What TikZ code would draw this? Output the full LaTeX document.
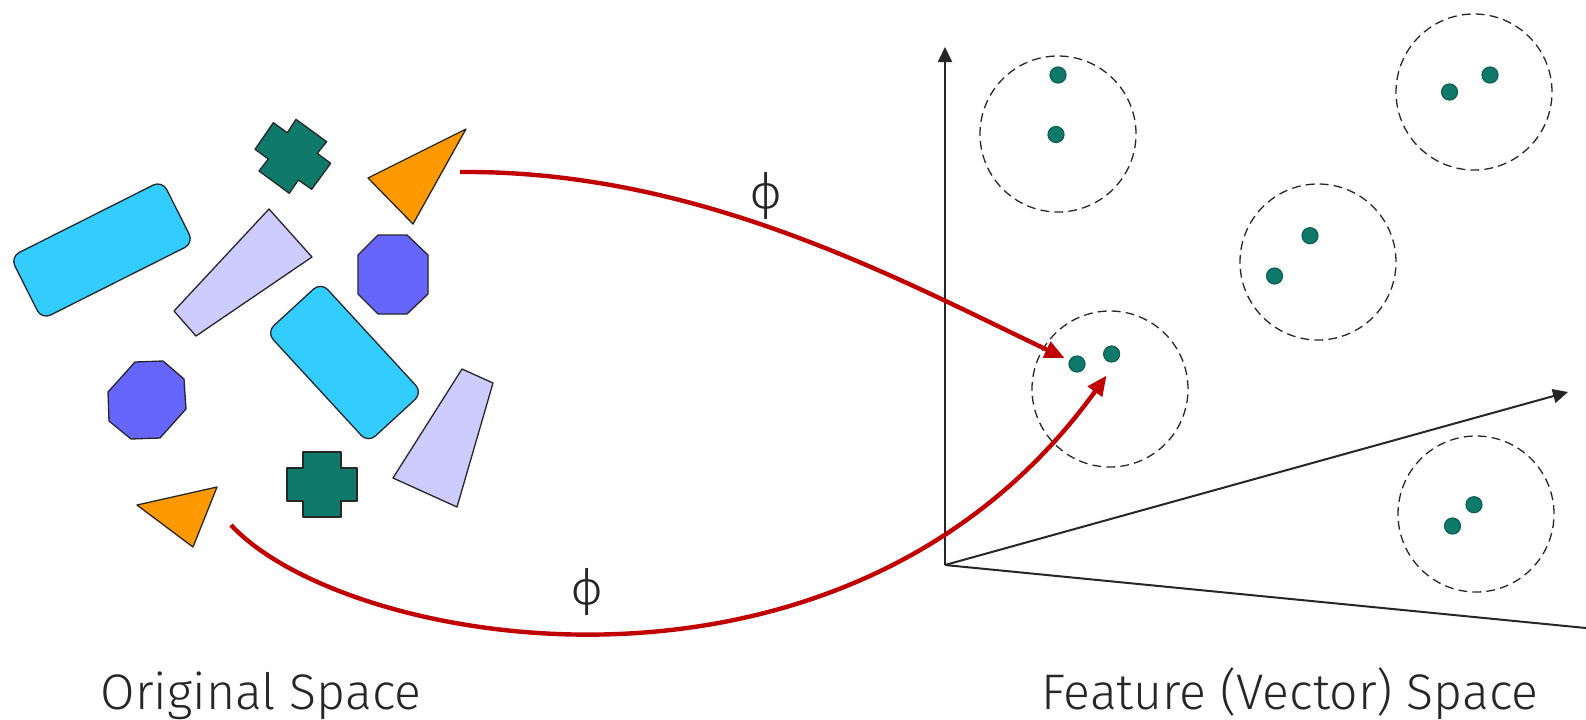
\documentclass[tikz,border=0pt]{standalone}
\usepackage{fontspec}
\setmainfont{Fira Sans}[UprightFont={* Light}]
\usetikzlibrary{arrows.meta}
\definecolor{edgegray}{HTML}{262626}
\definecolor{cyanbox}{HTML}{33CCFF}
\definecolor{lavender}{HTML}{CCCCFF}
\definecolor{violet}{HTML}{6666FF}
\definecolor{tealc}{HTML}{107A6A}
\definecolor{tealdark}{HTML}{0B5E52}
\definecolor{orangec}{HTML}{FF9900}
\definecolor{phired}{HTML}{C00000}

\begin{document}
\begin{tikzpicture}[x=0.5pt,y=-0.5pt,line join=round,
  piece/.style={draw=edgegray,line width=0.65pt},
  cluster/.style={circle,draw=edgegray,line width=0.65pt,dash pattern=on 4.4pt off 2.6pt,minimum size=78pt,inner sep=0pt},
  feat/.style={circle,fill=tealc,draw=tealdark,line width=0.6pt,minimum size=8pt,inner sep=0pt},
  axis/.style={draw=edgegray,line width=1pt,-{Triangle[length=7.5pt,width=7pt]}},
  phimap/.style={draw=phired,line width=2.2pt,-{Triangle[length=10pt,width=8.5pt]}},
  caption/.style={text=edgegray,font=\fontsize{25}{30}\selectfont}]
  \useasboundingbox (0,0) rectangle (1586,719);
  % espacio original: piezas sueltas
  \node[piece,fill=cyanbox,rounded corners=5pt,minimum width=85pt,minimum height=35pt,rotate=26.7] (boxA) at (102,250) {};
  \node[piece,fill=cyanbox,rounded corners=5pt,minimum width=75pt,minimum height=37pt,rotate=-47.4] (boxB) at (344.5,362.5) {};
  \filldraw[piece,fill=tealc] (273.3,122.7)--(287.3,132.7)--(296,119.3)--(326.7,141.7)--(317.3,153.3)--(330.7,163.3)--(311.7,189.3)--(298.3,180)--(289.3,193.3)--(259,171)--(268.3,159)--(255,149.3)--cycle;
  \filldraw[piece,fill=tealc] (303,452)--(341,452)--(341,468)--(357,468)--(357,501)--(341,501)--(341,517)--(303,517)--(303,501)--(287,501)--(287,468)--(303,468)--cycle;
  \filldraw[piece,fill=orangec] (368,178)--(466,129)--(413,224)--cycle;
  \filldraw[piece,fill=orangec] (137,505)--(217,487)--(193,547)--cycle;
  \filldraw[piece,fill=lavender] (269,209)--(312,257)--(196,336)--(174,311)--cycle;
  \filldraw[piece,fill=lavender] (462,369)--(493,383)--(457,507)--(393,478)--cycle;
  \filldraw[piece,fill=violet] (378,235)--(407,235)--(428,255)--(428,294)--(407,314)--(378,314)--(358,294)--(358,255)--cycle;
  \filldraw[piece,fill=violet] (135,362)--(163,361)--(184,379)--(186,409)--(160,438)--(131,439)--(109,421)--(108,392)--cycle;
  % ejes del espacio de rasgos
  \coordinate (orig) at (945,565); \coordinate (ytip) at (945,47);
  \coordinate (xtip) at (1568,392); \coordinate (zend) at (1586,628);
  \draw[axis] (orig) -- (ytip);
  \draw[axis] (orig) -- (xtip);
  \draw[draw=edgegray,line width=1pt] (orig) -- (zend);
  % grupos
  \node[cluster] (c1) at (1058,134) {};
  \node[cluster] (c2) at (1474,92) {};
  \node[cluster] (c3) at (1318,262) {};
  \node[cluster] (c4) at (1110,389) {};
  \node[cluster] (c5) at (1476,514) {};
  \node[feat] (d1a) at (1058,75) {};      \node[feat] (d1b) at (1056,134.5) {};
  \node[feat] (d2a) at (1490,75) {};      \node[feat] (d2b) at (1449.5,92) {};
  \node[feat] (d3a) at (1310,235.7) {};   \node[feat] (d3b) at (1274.5,276) {};
  \node[feat] (d4a) at (1077,364) {};     \node[feat] (d4b) at (1111.6,354) {};
  \node[feat] (d5a) at (1474,504.7) {};   \node[feat] (d5b) at (1452.5,526) {};
  % mapeo phi
  \coordinate (srcA) at (460,172); \coordinate (srcB) at (231,525);
  \draw[phimap,shorten >=2.5pt] (srcA) .. controls (700,170) and (900,280) .. (d4a);
  \draw[phimap,shorten >=9.5pt] (srcB) .. controls (345,648) and (845,738) .. (d4b.south east);
  \node[caption] (phiA) at (766,196) {ϕ};
  \node[caption] (phiB) at (587,592) {ϕ};
  % rotulos
  \node[caption,anchor=base] (origlbl) at (261,709) {Original Space};
  \node[caption,anchor=base] (featlbl) at (1290,709) {Feature (Vector) Space};
\end{tikzpicture}
\end{document}
